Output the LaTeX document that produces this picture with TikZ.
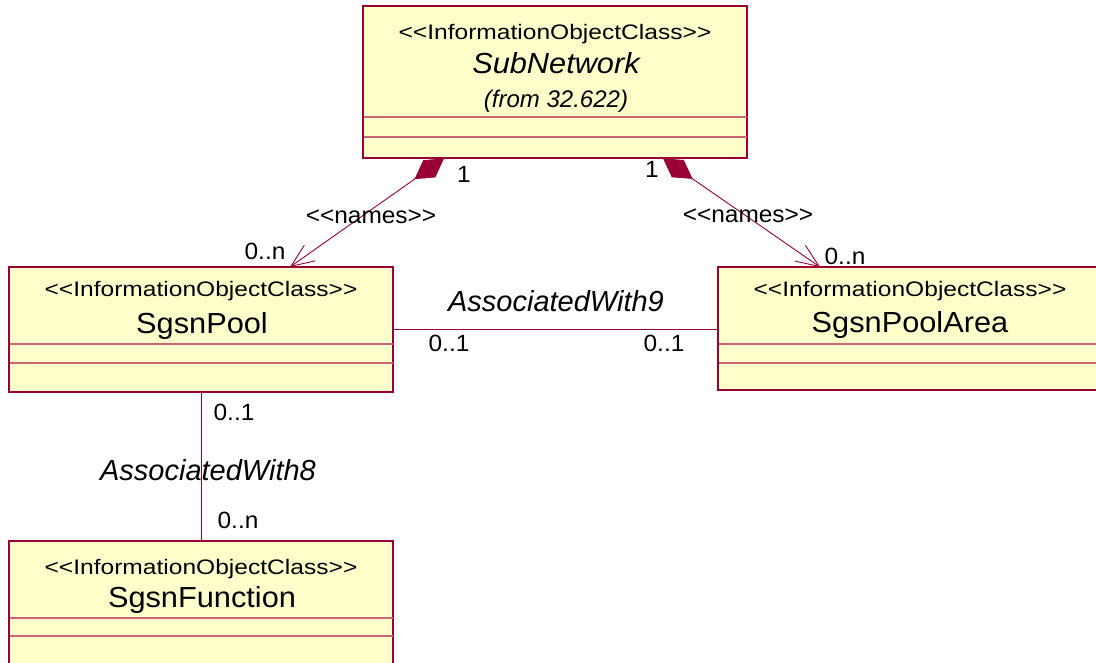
\documentclass[tikz,border=0pt]{standalone}
\usepackage{fontspec}
\setmainfont{Liberation Sans}[Ligatures=TeXOff]
\newfontfamily\lbfont{Liberation Sans}
\newfontfamily\stfont[FakeStretch=1.17]{Liberation Sans}
\newfontfamily\nmfont[FakeStretch=1.06]{Liberation Sans}
\newfontfamily\llfont[FakeStretch=1.04]{Liberation Sans}
\usetikzlibrary{arrows.meta}
\definecolor{umlred}{HTML}{990033}
\definecolor{umlpink}{HTML}{CC6677}
\definecolor{umlfill}{HTML}{FFFFCC}
\tikzset{
  cls/.style={draw=umlred, fill=umlfill, line width=1.4pt, rectangle, anchor=north west, inner sep=0pt},
  compart/.style={draw=umlpink, line width=1.3pt},
  stereo/.style={anchor=base, inner sep=0pt, font=\stfont\fontsize{21}{25}\selectfont},
  cname/.style={anchor=base, inner sep=0pt, font=\nmfont\fontsize{29}{34}\selectfont},
  lbl/.style={anchor=base, inner sep=0pt, font=\llfont\fontsize{23.5}{27}\selectfont},
  alabel/.style={anchor=base, inner sep=0pt, font=\lbfont\itshape\fontsize{29}{34}\selectfont},
  assoc/.style={draw=umlred, line width=0.9pt},
  compo/.style={draw=umlred, line width=0.9pt,
    {Diamond[length=36pt,width=21pt,fill=umlred]}-{Straight Barb[length=23pt,width=19pt,line width=0.9pt]}}
}
\begin{document}
\begin{tikzpicture}[x=1pt,y=-1pt]
\useasboundingbox (0,0) rectangle (1096,663);
% boxes
\node[cls, minimum width=383pt, minimum height=151pt] (sub) at (363,6) {};
\node[cls, minimum width=383pt, minimum height=124pt] (pool) at (9,267) {};
\node[cls, minimum width=384pt, minimum height=122pt] (area) at (718,267) {};
\node[cls, minimum width=383pt, minimum height=140pt] (func) at (9,541) {};
% compartments
\draw[compart] ([yshift=-111pt]sub.north west) -- ([yshift=-111pt]sub.north east);
\draw[compart] ([yshift=-131pt]sub.north west) -- ([yshift=-131pt]sub.north east);
\draw[compart] ([yshift=-77pt]pool.north west) -- ([yshift=-77pt]pool.north east);
\draw[compart] ([yshift=-96pt]pool.north west) -- ([yshift=-96pt]pool.north east);
\draw[compart] ([yshift=-77pt]area.north west) -- ([yshift=-77pt]area.north east);
\draw[compart] ([yshift=-96pt]area.north west) -- ([yshift=-96pt]area.north east);
\draw[compart] ([yshift=-77pt]func.north west) -- ([yshift=-77pt]func.north east);
\draw[compart] ([yshift=-95pt]func.north west) -- ([yshift=-95pt]func.north east);
% redraw borders on top
\draw[umlred, line width=1.4pt] (sub.north west) rectangle (sub.south east);
\draw[umlred, line width=1.4pt] (pool.north west) rectangle (pool.south east);
\draw[umlred, line width=1.4pt] (area.north west) rectangle (area.south east);
\draw[umlred, line width=1.4pt] (func.north west) rectangle (func.south east);
% texts in boxes
\node[stereo] (subst) at (555,40) {<<InformationObjectClass>>};
\node[cname, font=\nmfont\itshape\fontsize{29}{34}\selectfont] (subnm) at (556,74) {SubNetwork};
\node[anchor=base, inner sep=0pt, font=\lbfont\itshape\fontsize{24}{28}\selectfont] (subfrom) at (556,108) {(from 32.622)};
\node[stereo] (poolst) at (201,297) {<<InformationObjectClass>>};
\node[cname] (poolnm) at (202,334) {SgsnPool};
\node[stereo] (areast) at (910,297) {<<InformationObjectClass>>};
\node[cname] (areanm) at (910,333) {SgsnPoolArea};
\node[stereo] (funcst) at (201,574) {<<InformationObjectClass>>};
\node[cname] (funcnm) at (202,607) {SgsnFunction};
% connector end points
\coordinate (c1s) at ([xshift=81pt]sub.south west);
\coordinate (c1e) at ([xshift=281pt]pool.north west);
\coordinate (c2s) at ([xshift=300pt]sub.south west);
\coordinate (c2e) at ([xshift=102pt]area.north west);
% composition connectors
\draw[compo] (c1s) -- (c1e);
\draw[compo] (c2s) -- (c2e);
% associations
\draw[assoc] (pool.east |- 0,329) -- (area.west |- 0,329);
\draw[assoc] (pool.south -| 201,0) -- (func.north -| 201,0);
% labels
\node[lbl] (l1a) at (464,183) {1};
\node[lbl] (l1b) at (371,224) {<<names>>};
\node[lbl] (l1c) at (265,260) {0..n};
\node[lbl] (l2a) at (652,178) {1};
\node[lbl] (l2b) at (748,223) {<<names>>};
\node[lbl] (l2c) at (845,265) {0..n};
\node[alabel] (a9) at (556,312) {AssociatedWith9};
\node[lbl] (a9l) at (449,352) {0..1};
\node[lbl] (a9r) at (664,352) {0..1};
\node[lbl] (a8t) at (234,420) {0..1};
\node[alabel] (a8) at (208,480) {AssociatedWith8};
\node[lbl] (a8b) at (238,528) {0..n};
\end{tikzpicture}
\end{document}
